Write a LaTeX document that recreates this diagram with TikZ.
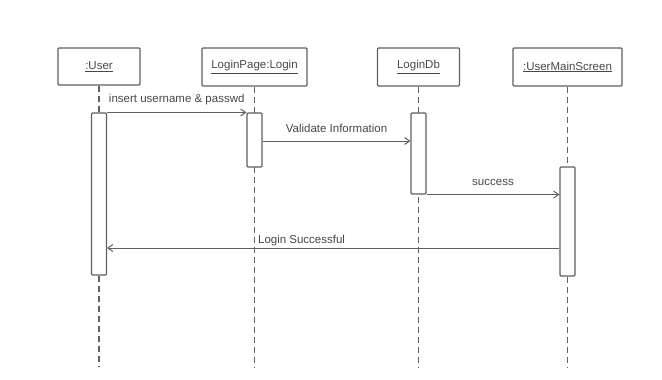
\documentclass[tikz,border=0pt]{standalone}
\usepackage{fontspec}
\setmainfont{Liberation Sans}
\usetikzlibrary{arrows.meta,positioning}
\definecolor{linegray}{HTML}{606060}
\definecolor{txtgray}{HTML}{484848}

\begin{document}
\begin{tikzpicture}[x=1pt,y=-1pt,
  obj/.style={draw=linegray,line width=1.1pt,rounded corners=1pt,text=txtgray,
    font=\fontsize{11.5}{13}\selectfont,inner sep=0pt},
  actbar/.style={draw=linegray,fill=white,line width=1.1pt,rounded corners=1pt,
    minimum width=15pt,inner sep=0pt},
  lifeline/.style={draw=linegray,line width=1.1pt,dash pattern=on 6pt off 4pt},
  msg/.style={draw=linegray,line width=1pt,-{Straight Barb[length=5pt,width=7pt]}},
  msglbl/.style={text=txtgray,font=\fontsize{11.5}{13}\selectfont,inner sep=1pt}]

  \useasboundingbox[fill=white] (0,0) rectangle (662,380);

  % objects
  \node[obj,minimum width=82pt,minimum height=37pt] (User) at (99,66.5) {\underline{:User}};
  \node[obj,minimum width=105pt,minimum height=38pt] (LoPa) at (254.5,67) {\underline{LoginPage:Login}};
  \node[obj,minimum width=82pt,minimum height=38pt] (LoDb) at (418.5,67) {\underline{LoginDb}};
  \node[obj,minimum width=109pt,minimum height=38pt] (UsMS) at (567.5,67) {\underline{:UserMainScreen}};

  % lifelines
  \coordinate (UserEnd) at (99,367);
  \coordinate (LoPaEnd) at (254.5,367);
  \coordinate (LoDbEnd) at (418.5,367);
  \coordinate (UsMSEnd) at (567.5,367);
  \draw[lifeline] (User) -- (UserEnd);
  \draw[lifeline] (LoPa) -- (LoPaEnd);
  \draw[lifeline] (LoDb) -- (LoDbEnd);
  \draw[lifeline] (UsMS) -- (UsMSEnd);

  % activation bars
  \node[actbar,minimum height=162pt] (UserAc) at (99,194) {};
  \node[actbar,minimum height=54pt] (LoPaAc) at (254.5,140) {};
  \node[actbar,minimum height=81pt] (LoDbAc) at (418.5,153.5) {};
  \node[actbar,minimum height=109pt] (UsMSAc) at (567.5,221.5) {};

  % messages
  \coordinate (VaIn) at (0,141);
  \coordinate (LoSu) at (0,248);
  \draw[msg] (UserAc.north east) -- node[msglbl,above=6pt] {insert username \& passwd} (LoPaAc.north west);
  \draw[msg] (LoPaAc.east |- VaIn) -- node[msglbl,above=7pt] {Validate Information} (LoDbAc.west |- VaIn);
  \draw[msg] (LoDbAc.south east) -- node[msglbl,above=7pt] {success} (UsMSAc.west |- LoDbAc.south);
  \draw[msg] (UsMSAc.west |- LoSu) -- node[msglbl,above=1pt,pos=0.57] {Login Successful} (UserAc.east |- LoSu);

\end{tikzpicture}
\end{document}
